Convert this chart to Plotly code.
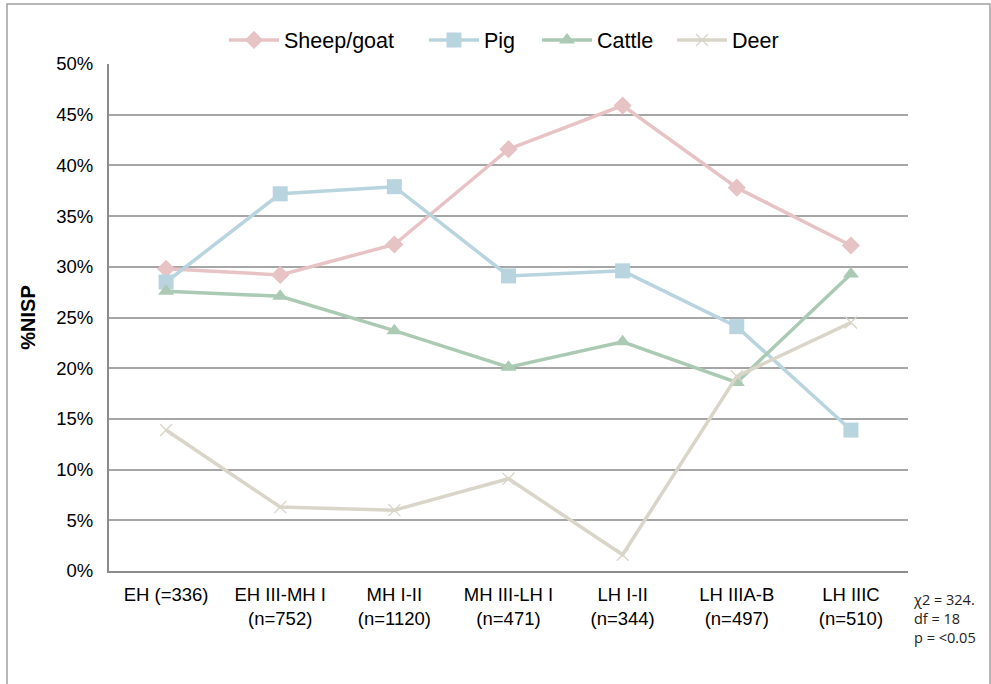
import plotly.graph_objects as go

categories = ["EH (=336)", "EH III-MH I<br>(n=752)", "MH I-II<br>(n=1120)",
              "MH III-LH I<br>(n=471)", "LH I-II<br>(n=344)", "LH IIIA-B<br>(n=497)",
              "LH IIIC<br>(n=510)"]
sheep_goat = [29.8, 29.2, 32.2, 41.6, 45.9, 37.8, 32.1]
pig = [28.5, 37.2, 37.9, 29.1, 29.6, 24.1, 13.9]
cattle = [27.6, 27.1, 23.7, 20.1, 22.6, 18.6, 29.3]
deer = [13.9, 6.3, 6.0, 9.1, 1.6, 19.2, 24.5]
y_ticks = [0, 5, 10, 15, 20, 25, 30, 35, 40, 45, 50]
y_tick_labels = [f"{v}%" for v in y_ticks]

series = [
    ("Sheep/goat", sheep_goat, "#E8C3C5", "diamond", 14, 0, "legend", 228),
    ("Pig", pig, "#B8D4DE", "square", 15, 0, "legend2", 428),
    ("Cattle", cattle, "#ABCAB4", "triangle-up", 14, 0, "legend3", 541),
    ("Deer", deer, "#D9D5C8", "x-thin", 12, 1.3, "legend4", 676),
]

fig = go.Figure()
legends = {}
for name, vals, color, sym, size, lw, leg, lx in series:
    fig.add_trace(go.Scatter(
        x=list(range(len(categories))), y=vals, name=name, mode="lines+markers",
        line=dict(color=color, width=3.5),
        marker=dict(symbol=sym, size=size, color=color,
                    line=dict(color=color, width=lw)),
        legend=leg,
    ))
    legends[leg] = dict(orientation="h", x=(lx - 109 - 4) / 799, xanchor="left",
                        y=1 + 24 / 507, yanchor="middle",
                        font=dict(size=21.5), itemwidth=50,
                        bgcolor="rgba(0,0,0,0)")

fig.update_layout(
    width=991, height=684,
    margin=dict(l=109, r=83, t=64, b=113),
    paper_bgcolor="white", plot_bgcolor="white",
    font=dict(family="Liberation Sans, Arial, sans-serif", color="black", size=18),
    showlegend=True,
    xaxis=dict(
        range=[-0.5, 6.5], tickmode="array", tickvals=list(range(len(categories))),
        ticktext=categories, showgrid=False, zeroline=False,
        showline=True, linecolor="#8C8C8C", linewidth=2, ticks="",
        tickfont=dict(size=18.5), ticklabelstandoff=6,
    ),
    yaxis=dict(
        range=[0, 50], tickmode="array", tickvals=y_ticks, ticktext=y_tick_labels,
        showgrid=True, gridcolor="#A6A6A6", gridwidth=1.5, zeroline=False,
        showline=True, linecolor="#8C8C8C", linewidth=2, ticks="",
        tickfont=dict(size=18.5), ticklabelstandoff=10,
        title=dict(text="<b>%NISP</b>", font=dict(size=20), standoff=15),
    ),
    **legends,
)

# outer frame
fig.add_shape(type="rect", xref="paper", yref="paper",
              x0=(7 - 109) / 799, x1=(990 - 109) / 799,
              y0=-(720 - 571) / 507, y1=1 + (64 - 4) / 507,
              line=dict(color="#A0A0A0", width=1.5), layer="below")

fig.add_annotation(xref="paper", yref="paper", x=(911 - 109) / 799, y=-(588 - 571) / 507,
                   xanchor="left", yanchor="top", align="left", showarrow=False,
                   text="χ2 = 324.<br>df = 18<br>p = <0.05",
                   font=dict(family="Open Sans, Noto Sans, sans-serif", size=14.5, color="#222"))

fig.write_html("out.html", config={"displayModeBar": False},
               post_script="document.body.style.margin='0';")
